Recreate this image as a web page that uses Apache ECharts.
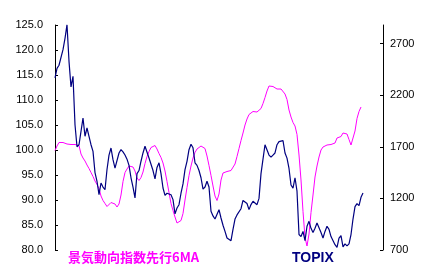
<!DOCTYPE html>
<html><head><meta charset="utf-8">
<script src="https://cdn.jsdelivr.net/npm/echarts@6/dist/echarts.min.js"></script>
<style>html,body{margin:0;padding:0;background:#fff}#c{width:432px;height:274px}</style>
</head><body><div id="c"></div>
<script>
const leadingName = '景気動向指数先行6MA';
const topixName = 'TOPIX';
const leftTicks = [80,85,90,95,100,105,110,115,120,125];
const rightTicks = [700,1200,1700,2200,2700];
const leading6MA = [99.9,100.8,101.5,101.7,101.5,101.3,101.2,101.2,101.1,101.2,
101.1,101.2,100.9,99.2,98.4,97.8,97.0,96.3,95.5,94.7,
93.8,93.1,92.3,90.8,89.9,89.3,88.7,89.0,89.5,89.7,
89.2,88.6,89.2,91.0,93.7,95.5,96.2,96.8,97.1,96.6,
95.8,94.4,93.9,94.5,95.6,97.3,98.7,99.7,100.5,100.9,
100.9,100.2,99.3,98.5,97.4,95.8,93.7,91.5,89.3,87.9,
86.6,85.4,85.1,85.9,87.3,90.0,92.5,94.9,96.8,98.4,
99.5,100.2,100.6,100.8,101.1,100.3,98.8,96.9,94.9,92.8,
90.8,89.9,91.2,94.0,95.4,95.8,95.7,95.6,95.9,96.2,
97.2,98.7,100.3,101.9,103.4,105.0,106.2,107.1,107.5,107.7,
107.7,107.6,107.9,108.3,109.3,110.5,111.8,112.8,112.9,112.7,
112.4,112.2,112.2,112.2,111.9,111.2,110.1,108.0,106.6,105.5,
104.8,103.1,99.0,94.0,87.7,82.5,80.8,83.2,87.5,91.0,
94.6,96.8,98.6,100.0,100.6,100.7,101.0,101.3,101.1,101.1,
101.4,102.4,102.5,102.7,103.4,103.7,103.2,102.1,101.0,101.4,
103.8,106.3,107.7,108.6];
const topix = [2367,2460,2490,2500,2641,2750,2883,2528,2280,2383,
1914,1700,1720,1850,1979,1802,1882,1800,1720,1656,
1450,1366,1236,1349,1310,1284,1480,1620,1688,1575,
1494,1500,1640,1672,1650,1620,1580,1520,1400,1310,
1204,1440,1470,1560,1640,1705,1720,1591,1580,1470,
1390,1500,1545,1440,1301,1230,1250,1240,1235,1188,
1050,1107,1139,1250,1340,1478,1559,1672,1725,1690,
1545,1520,1470,1400,1290,1310,1366,1310,1075,1030,
1000,990,1091,1010,940,880,816,800,790,900,
1000,1040,1050,1100,1180,1175,1150,1091,1140,1172,
1170,1139,1200,1440,1580,1720,1710,1620,1600,1620,
1640,1720,1750,1740,1760,1640,1590,1490,1330,1300,
1400,1270,850,830,880,790,930,978,910,870,
910,962,950,870,816,880,930,900,830,820,
751,726,816,840,730,760,740,760,850,1000,
1120,1150,1130,1210,1252];
const categoryCount = 165;
const categories = [];
for (let i = 0; i < categoryCount; i++) categories.push(String(i));

const chart = echarts.init(document.getElementById('c'), null, {renderer: 'canvas'});
chart.setOption({
  animation: false,
  backgroundColor: '#ffffff',
  grid: {left: 55, right: 49, top: 25, bottom: 24, containLabel: false},
  xAxis: {type: 'category', data: categories, boundaryGap: false, show: false},
  yAxis: [
    {type: 'value', position: 'left', min: 80, max: 125, interval: 5,
     splitLine: {show: false},
     axisLine: {show: true, lineStyle: {color: '#000', width: 1}},
     axisTick: {show: true, inside: true, length: 3, lineStyle: {color: '#000'}},
     axisLabel: {color: '#000', fontFamily: 'Liberation Sans', fontSize: 11, margin: 12,
       formatter: v => v.toFixed(1)}},
    {type: 'value', position: 'right', min: 700, max: 2880,
     splitLine: {show: false},
     axisLine: {show: true, lineStyle: {color: '#000', width: 1}},
     axisTick: {show: true, inside: true, length: 3, customValues: rightTicks, lineStyle: {color: '#000'}},
     axisLabel: {color: '#000', fontFamily: 'Liberation Sans', fontSize: 11, margin: 7,
       customValues: rightTicks, formatter: v => String(Math.round(v))}}
  ],
  series: [
    {name: leadingName, type: 'line', yAxisIndex: 0, data: leading6MA, showSymbol: false,
     lineStyle: {color: '#FF00FF', width: 1}, itemStyle: {color: '#FF00FF'}},
    {name: topixName, type: 'line', yAxisIndex: 1, data: topix, showSymbol: false,
     lineStyle: {color: '#000080', width: 1.2}, itemStyle: {color: '#000080'}}
  ],
  graphic: [
    {type: 'text', left: 68, top: 251, style: {text: leadingName, fill: '#FF00FF',
      font: 'bold 13px "Noto Sans CJK JP", sans-serif'}},
    {type: 'text', left: 292, top: 251, style: {text: topixName, fill: '#000080',
      font: 'bold 14px "Liberation Sans", sans-serif'}}
  ]
});
</script></body></html>
